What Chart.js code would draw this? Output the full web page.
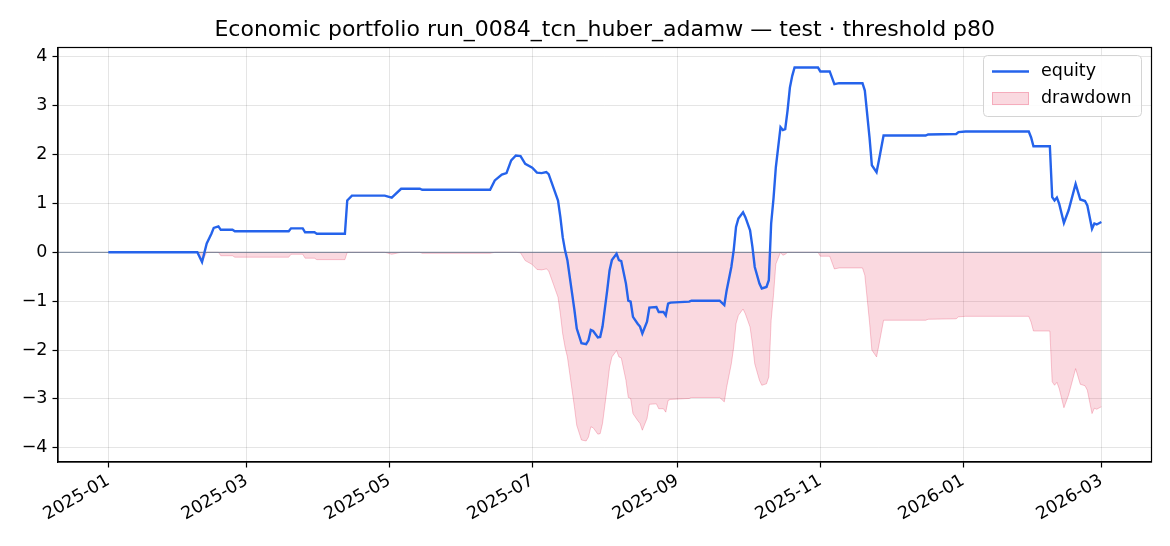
<!DOCTYPE html>
<html lang="en">
<head>
<meta charset="UTF-8">
<title>Economic portfolio run_0084_tcn_huber_adamw</title>
<script src="https://cdn.jsdelivr.net/npm/chart.js"></script>
<style>
    html, body { margin: 0; padding: 0; background: #fff; }
    #wrap { width: 1170px; height: 546px; position: relative; }
</style>
</head>
<body>
<div id="wrap"><canvas id="equityChart"></canvas></div>
<script>
const chartTitle = 'Economic portfolio run_0084_tcn_huber_adamw \u2014 test \u00b7 threshold p80';

const dates = [
    '2025-01-01', '2025-02-08', '2025-02-10', '2025-02-12', '2025-02-14', '2025-02-15', '2025-02-17', '2025-02-18',
    '2025-02-23', '2025-02-24', '2025-03-19', '2025-03-20', '2025-03-25', '2025-03-26', '2025-03-30', '2025-03-31',
    '2025-04-12', '2025-04-13', '2025-04-15', '2025-04-29', '2025-05-02', '2025-05-06', '2025-05-14', '2025-05-15',
    '2025-06-13', '2025-06-15', '2025-06-18', '2025-06-20', '2025-06-22', '2025-06-24', '2025-06-26', '2025-06-28',
    '2025-07-01', '2025-07-03', '2025-07-05', '2025-07-07', '2025-07-08', '2025-07-10', '2025-07-12', '2025-07-13',
    '2025-07-14', '2025-07-15', '2025-07-16', '2025-07-18', '2025-07-19', '2025-07-20', '2025-07-22', '2025-07-24',
    '2025-07-25', '2025-07-26', '2025-07-27', '2025-07-29', '2025-07-30', '2025-07-31', '2025-08-02', '2025-08-03',
    '2025-08-04', '2025-08-06', '2025-08-07', '2025-08-08', '2025-08-10', '2025-08-11', '2025-08-12', '2025-08-13',
    '2025-08-15', '2025-08-16', '2025-08-17', '2025-08-19', '2025-08-20', '2025-08-23', '2025-08-24', '2025-08-26',
    '2025-08-27', '2025-08-28', '2025-08-29', '2025-09-06', '2025-09-07', '2025-09-19', '2025-09-21', '2025-09-22',
    '2025-09-24', '2025-09-25', '2025-09-26', '2025-09-27', '2025-09-29', '2025-09-30', '2025-10-02', '2025-10-03',
    '2025-10-04', '2025-10-06', '2025-10-07', '2025-10-09', '2025-10-10', '2025-10-11', '2025-10-12', '2025-10-13',
    '2025-10-15', '2025-10-16', '2025-10-17', '2025-10-18', '2025-10-19', '2025-10-20', '2025-10-21', '2025-10-31',
    '2025-11-01', '2025-11-05', '2025-11-07', '2025-11-09', '2025-11-19', '2025-11-20', '2025-11-22', '2025-11-23',
    '2025-11-25', '2025-11-26', '2025-11-28', '2025-12-16', '2025-12-17', '2025-12-29', '2025-12-30', '2026-01-02',
    '2026-01-29', '2026-01-30', '2026-01-31', '2026-02-07', '2026-02-08', '2026-02-09', '2026-02-10', '2026-02-11',
    '2026-02-13', '2026-02-15', '2026-02-18', '2026-02-20', '2026-02-22', '2026-02-23', '2026-02-25', '2026-02-26',
    '2026-02-27', '2026-03-01'
];

const equity = [
    0, 0, -0.20, 0.18, 0.38, 0.50, 0.53, 0.46,
    0.46, 0.43, 0.43, 0.49, 0.49, 0.41, 0.41, 0.38,
    0.38, 1.06, 1.16, 1.16, 1.12, 1.30, 1.30, 1.28,
    1.28, 1.47, 1.59, 1.62, 1.88, 1.98, 1.97, 1.81,
    1.73, 1.63, 1.62, 1.64, 1.60, 1.33, 1.06, 0.72,
    0.31, 0.04, -0.16, -0.84, -1.18, -1.56, -1.86, -1.88,
    -1.80, -1.59, -1.61, -1.74, -1.73, -1.52, -0.78, -0.37,
    -0.16, -0.03, -0.16, -0.18, -0.64, -0.99, -1.01, -1.32,
    -1.46, -1.52, -1.66, -1.42, -1.13, -1.12, -1.22, -1.22,
    -1.29, -1.05, -1.03, -1.01, -0.99, -0.99, -1.08, -0.78,
    -0.30, 0.04, 0.52, 0.69, 0.82, 0.72, 0.45, 0.11,
    -0.30, -0.64, -0.74, -0.71, -0.57, 0.59, 1.10, 1.74,
    2.56, 2.50, 2.52, 2.90, 3.37, 3.61, 3.78, 3.78,
    3.70, 3.70, 3.44, 3.46, 3.46, 3.31, 2.35, 1.78,
    1.64, 1.88, 2.39, 2.39, 2.41, 2.42, 2.46, 2.47,
    2.47, 2.35, 2.17, 2.17, 1.13, 1.06, 1.12, 0.99,
    0.60, 0.86, 1.40, 1.08, 1.05, 0.96, 0.48, 0.59,
    0.57, 0.62
];

const xTickDates = ['2025-01-01', '2025-03-01', '2025-05-01', '2025-07-01', '2025-09-01', '2025-11-01', '2026-01-01', '2026-03-01'];
const xTickLabels = ['2025-01', '2025-03', '2025-05', '2025-07', '2025-09', '2025-11', '2026-01', '2026-03'];
const yTicks = [-4, -3, -2, -1, 0, 1, 2, 3, 4];

const BLUE = '#2563eb';
const PINK_FILL = 'rgba(225, 29, 72, 0.17)';
const PINK_EDGE = 'rgba(225, 29, 72, 0.24)';
const FONT = '"DejaVu Sans", sans-serif';

// days since the first date, used as the x value
const day0 = Date.parse(dates[0]);
const dayOf = d => (Date.parse(d) - day0) / 86400000;

const equityPoints = dates.map((d, i) => ({ x: dayOf(d), y: equity[i] }));
// drawdown = equity minus running peak
let peak = -Infinity;
const drawdownPoints = dates.map((d, i) => {
    peak = Math.max(peak, equity[i]);
    return { x: dayOf(d), y: equity[i] - peak };
});

const decorations = {
    id: 'decorations',
    afterDatasetDraw(chart, args) {
        // zero line drawn over the drawdown fill, under the equity line
        if (args.index !== 1) return;
        const { ctx, chartArea } = chart;
        const y0 = chart.scales.y.getPixelForValue(0);
        ctx.save();
        ctx.strokeStyle = 'rgba(100, 116, 139, 0.75)';
        ctx.lineWidth = 1.2;
        ctx.beginPath();
        ctx.moveTo(chartArea.left, y0);
        ctx.lineTo(chartArea.right, y0);
        ctx.stroke();
        ctx.restore();
    },
    afterDraw(chart) {
        const { ctx, chartArea } = chart;
        ctx.save();
        // frame
        ctx.strokeStyle = '#000';
        ctx.lineWidth = 1.2;
        ctx.strokeRect(chartArea.left, chartArea.top, chartArea.right - chartArea.left, chartArea.bottom - chartArea.top);

        // title
        ctx.fillStyle = '#000';
        ctx.font = '22px ' + FONT;
        ctx.textAlign = 'center';
        ctx.textBaseline = 'alphabetic';
        ctx.fillText(chartTitle, (chartArea.left + chartArea.right) / 2, 36);

        // legend box
        const lx = 983.5, ly = 55.5, lw = 158, lh = 61;
        ctx.beginPath();
        ctx.roundRect(lx, ly, lw, lh, 4);
        ctx.fillStyle = 'rgba(255,255,255,0.85)';
        ctx.fill();
        ctx.strokeStyle = '#d4d4d4';
        ctx.lineWidth = 1;
        ctx.stroke();

        ctx.strokeStyle = BLUE;
        ctx.lineWidth = 2.4;
        ctx.beginPath();
        ctx.moveTo(992, 71.5);
        ctx.lineTo(1029, 71.5);
        ctx.stroke();

        ctx.fillStyle = PINK_FILL;
        ctx.fillRect(992, 92, 37, 13);
        ctx.strokeStyle = PINK_EDGE;
        ctx.lineWidth = 1;
        ctx.strokeRect(992.5, 92.5, 36, 12);

        ctx.fillStyle = '#000';
        ctx.font = '17.5px ' + FONT;
        ctx.textAlign = 'left';
        ctx.textBaseline = 'middle';
        ctx.fillText('equity', 1041, 71.5);
        ctx.fillText('drawdown', 1041, 98.5);
        ctx.restore();
    }
};

new Chart(document.getElementById('equityChart'), {
    type: 'line',
    data: {
        datasets: [{
            label: 'equity',
            data: equityPoints,
            borderColor: BLUE,
            borderWidth: 2.4,
            pointRadius: 0,
            fill: false,
            order: 0
        }, {
            label: 'drawdown',
            data: drawdownPoints,
            borderColor: PINK_EDGE,
            backgroundColor: PINK_FILL,
            borderWidth: 1,
            pointRadius: 0,
            fill: 'origin',
            order: 1
        }]
    },
    options: {
        responsive: true,
        maintainAspectRatio: false,
        animation: false,
        layout: { padding: { top: 47.5, right: 18.5, left: 0, bottom: 0 } },
        plugins: {
            legend: { display: false },
            tooltip: { enabled: false }
        },
        scales: {
            x: {
                type: 'linear',
                min: -21.5,
                max: 445.4,
                afterBuildTicks: scale => { scale.ticks = xTickDates.map(d => ({ value: dayOf(d) })); },
                afterFit: scale => { scale.height = 84; },
                ticks: {
                    autoSkip: false,
                    minRotation: 30,
                    maxRotation: 30,
                    padding: 3,
                    color: '#000',
                    font: { family: FONT, size: 17.5 },
                    callback: (value, index) => xTickLabels[index]
                },
                grid: {
                    color: 'rgba(0,0,0,0.1)',
                    lineWidth: 1,
                    tickColor: '#000',
                    tickLength: 5.5,
                    tickWidth: 1.2
                },
                border: { display: true, color: '#000', width: 1.2 }
            },
            y: {
                min: -4.29,
                max: 4.19,
                afterBuildTicks: scale => { scale.ticks = yTicks.map(v => ({ value: v })); },
                afterFit: scale => { scale.width = 58; },
                ticks: {
                    padding: 5,
                    color: '#000',
                    font: { family: FONT, size: 17.5 },
                    callback: value => String(value).replace('-', '\u2212')
                },
                grid: {
                    color: 'rgba(0,0,0,0.1)',
                    lineWidth: 1,
                    tickColor: '#000',
                    tickLength: 5.5,
                    tickWidth: 1.2
                },
                border: { display: true, color: '#000', width: 1.2 }
            }
        }
    },
    plugins: [decorations]
});
</script>
</body>
</html>
